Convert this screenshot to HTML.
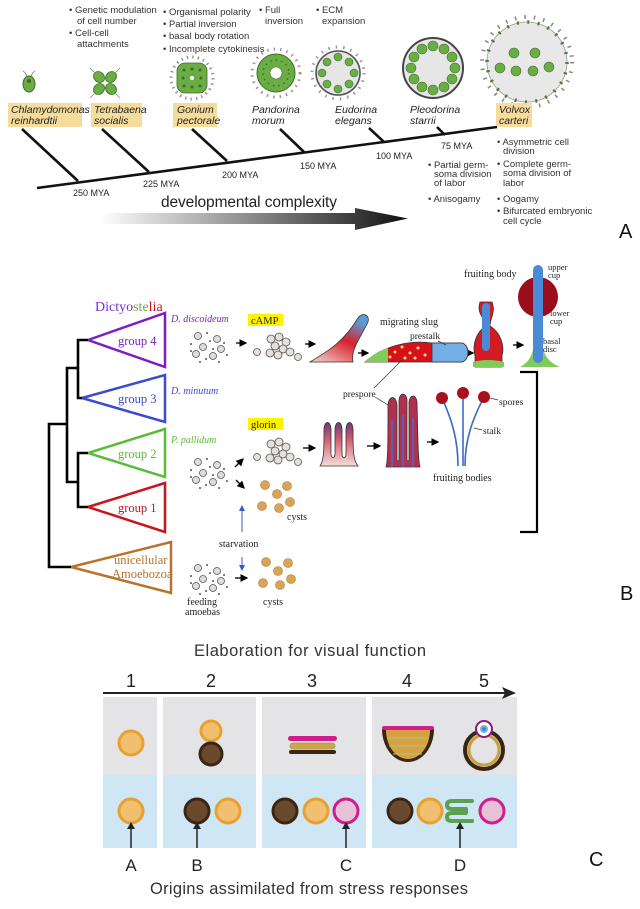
<!DOCTYPE html>
<html><head><meta charset="utf-8"><style>
html,body{margin:0;padding:0;background:#fff}
svg{display:block}
.s{font-family:"Liberation Sans",sans-serif}
.r{font-family:"Liberation Serif",serif}
</style></head><body>
<svg width="640" height="909" viewBox="0 0 640 909" xmlns="http://www.w3.org/2000/svg">
<defs>
<linearGradient id="ga" x1="0" x2="1"><stop offset="0" stop-color="#fff"/><stop offset="1" stop-color="#111"/></linearGradient>
<linearGradient id="mound" x1="0" y1="1" x2="0.6" y2="0"><stop offset="0" stop-color="#f0d8d4"/><stop offset="0.6" stop-color="#d8202a"/><stop offset="1" stop-color="#5a9ad8"/></linearGradient>
<linearGradient id="fing" x1="0" y1="1" x2="0" y2="0"><stop offset="0" stop-color="#f2dcd8"/><stop offset="0.6" stop-color="#d46070"/><stop offset="1" stop-color="#6a3a80"/></linearGradient>
<marker id="ah" markerWidth="6" markerHeight="6" refX="5" refY="3" orient="auto"><path d="M0,0 L6,3 L0,6 Z" fill="#000"/></marker>
<marker id="ab" markerWidth="6" markerHeight="6" refX="5" refY="3" orient="auto"><path d="M0,0 L6,3 L0,6 Z" fill="#3a5ac8"/></marker>
</defs>

<!-- ============ PANEL A ============ -->
<g class="s" font-size="9.5" fill="#333">
<text x="69" y="13">•  Genetic modulation</text>
<text x="77" y="24">of cell number</text>
<text x="69" y="36">•  Cell-cell</text>
<text x="77" y="47">attachments</text>
<text x="163" y="15">•  Organismal polarity</text>
<text x="163" y="27">•  Partial inversion</text>
<text x="163" y="39">•  basal body rotation</text>
<text x="163" y="52">•  Incomplete cytokinesis</text>
<text x="259" y="13">•  Full</text>
<text x="265" y="24">inversion</text>
<text x="316" y="13">•  ECM</text>
<text x="322" y="24">expansion</text>
<text x="428" y="168">•  Partial germ-</text>
<text x="434" y="177">soma division</text>
<text x="434" y="186">of labor</text>
<text x="428" y="202">•  Anisogamy</text>
<text x="497" y="145">•  Asymmetric cell</text>
<text x="503" y="154">division</text>
<text x="497" y="167">•  Complete germ-</text>
<text x="503" y="176">soma division of</text>
<text x="503" y="186">labor</text>
<text x="497" y="202">•  Oogamy</text>
<text x="497" y="214">•  Bifurcated embryonic</text>
<text x="503" y="224">cell cycle</text>
</g>

<!-- organisms -->
<g stroke="#777" stroke-width="0.8" fill="none">
<path d="M27,76 q-2,-4 -4,-5 M31,76 q2,-4 4,-5"/>
</g>
<ellipse cx="29" cy="84" rx="6" ry="8" fill="#6aad45" stroke="#3d6e2a"/>
<circle cx="29" cy="81" r="2" fill="#3d6e2a"/>
<!-- Tetrabaena -->
<g fill="#6aad45" stroke="#3d6e2a" stroke-width="0.8">
<ellipse cx="99" cy="77" rx="6" ry="5" transform="rotate(45 99 77)"/>
<ellipse cx="111" cy="77" rx="6" ry="5" transform="rotate(-45 111 77)"/>
<ellipse cx="99" cy="89" rx="6" ry="5" transform="rotate(-45 99 89)"/>
<ellipse cx="111" cy="89" rx="6" ry="5" transform="rotate(45 111 89)"/>
</g>
<g stroke="#888" stroke-width="0.8" fill="none"><path d="M94,72 l-4,-4 M116,72 l4,-4 M94,94 l-4,4 M116,94 l4,4"/></g>
<!-- Gonium -->
<circle cx="192" cy="78" r="21" fill="none" stroke="#999" stroke-width="3" stroke-dasharray="1.5 4"/>
<rect x="177" y="63" width="30" height="30" rx="8" fill="#6aad45" stroke="#3d6e2a" stroke-width="0.8"/>
<g fill="#3d6e2a"><circle cx="184" cy="70" r="1.5"/><circle cx="192" cy="69" r="1.5"/><circle cx="200" cy="70" r="1.5"/><circle cx="183" cy="78" r="1.5"/><circle cx="201" cy="78" r="1.5"/><circle cx="184" cy="86" r="1.5"/><circle cx="192" cy="87" r="1.5"/><circle cx="200" cy="86" r="1.5"/></g>
<circle cx="192" cy="78" r="2" fill="#fff"/>
<!-- Pandorina -->
<circle cx="276" cy="73" r="24" fill="none" stroke="#999" stroke-width="3" stroke-dasharray="1.5 5"/>
<circle cx="276" cy="73" r="19" fill="#6aad45" stroke="#3d6e2a"/>
<circle cx="276" cy="73" r="6" fill="#fff" stroke="#3d6e2a" stroke-width="0.6"/>
<circle cx="276" cy="73" r="13" fill="none" stroke="#3d6e2a" stroke-width="1.5" stroke-dasharray="1.5 4"/>
<!-- Eudorina -->
<circle cx="338" cy="73" r="26" fill="none" stroke="#999" stroke-width="3" stroke-dasharray="1.5 6"/>
<circle cx="338" cy="73" r="22" fill="#e6e6e6" stroke="#555" stroke-width="1.6"/>
<g fill="#6aad45" stroke="#3d6e2a" stroke-width="0.6">
<circle cx="354" cy="73" r="4"/><circle cx="349" cy="84" r="4"/><circle cx="338" cy="89" r="4"/><circle cx="327" cy="84" r="4"/><circle cx="322" cy="73" r="4"/><circle cx="327" cy="62" r="4"/><circle cx="338" cy="57" r="4"/><circle cx="349" cy="62" r="4"/></g>
<!-- Pleodorina -->
<circle cx="433" cy="68" r="30" fill="#e6e6e6" stroke="#444" stroke-width="2"/>
<g fill="#6aad45" stroke="#3d6e2a" stroke-width="0.6">
<circle cx="455" cy="68" r="5"/><circle cx="452" cy="79" r="5"/><circle cx="444" cy="87" r="5"/><circle cx="433" cy="90" r="5"/><circle cx="422" cy="87" r="5"/><circle cx="414" cy="79" r="5"/><circle cx="411" cy="68" r="5"/><circle cx="414" cy="57" r="5"/><circle cx="422" cy="49" r="5"/><circle cx="433" cy="46" r="5"/><circle cx="444" cy="49" r="5"/><circle cx="452" cy="57" r="5"/></g>
<!-- Volvox -->
<circle cx="527" cy="62" r="45" fill="none" stroke="#888" stroke-width="4" stroke-dasharray="1.5 8"/>
<circle cx="527" cy="62" r="40" fill="#e8e8e8" stroke="#999" stroke-width="0.8"/>
<circle cx="527" cy="62" r="40" fill="none" stroke="#4a7a3a" stroke-width="3.5" stroke-dasharray="2 8.47"/>
<g fill="#6aad45" stroke="#3d6e2a" stroke-width="0.6">
<circle cx="514" cy="53" r="5"/><circle cx="535" cy="53" r="5"/><circle cx="500" cy="68" r="5"/><circle cx="516" cy="71" r="5"/><circle cx="533" cy="71" r="5"/><circle cx="549" cy="67" r="5"/></g>

<!-- labels with boxes -->
<g fill="#f5dc9c"><rect x="8" y="103" width="74" height="24"/><rect x="91" y="103" width="51" height="24"/><rect x="173" y="103" width="44" height="24"/><rect x="496" y="103" width="36" height="24"/></g>
<g class="s" font-size="10.5" font-style="italic" fill="#222">
<text x="11" y="113">Chlamydomonas</text><text x="11" y="124">reinhardtii</text>
<text x="94" y="113">Tetrabaena</text><text x="94" y="124">socialis</text>
<text x="177" y="113">Gonium</text><text x="177" y="124">pectorale</text>
<text x="252" y="113">Pandorina</text><text x="252" y="124">morum</text>
<text x="335" y="113">Eudorina</text><text x="335" y="124">elegans</text>
<text x="410" y="113">Pleodorina</text><text x="410" y="124">starrii</text>
<text x="499" y="113">Volvox</text><text x="499" y="124">carteri</text>
</g>
<!-- timeline -->
<g stroke="#111" stroke-width="2.6">
<line x1="37" y1="188" x2="497" y2="127"/>
<line x1="22" y1="129" x2="78" y2="181"/>
<line x1="102" y1="129" x2="149" y2="172"/>
<line x1="192" y1="129" x2="227" y2="161"/>
<line x1="280" y1="129" x2="304" y2="152"/>
<line x1="369" y1="128" x2="384" y2="142"/>
<line x1="437" y1="127" x2="445" y2="135"/>
</g>
<g class="s" font-size="9" fill="#222">
<text x="73" y="196">250 MYA</text><text x="143" y="187">225 MYA</text><text x="222" y="178">200 MYA</text>
<text x="300" y="169">150 MYA</text><text x="376" y="159">100 MYA</text><text x="441" y="149">75 MYA</text>
</g>
<text x="161" y="207" class="s" font-size="15.5" fill="#222" textLength="176">developmental complexity</text>
<path d="M100,213 H355 V208 L408,218.5 L355,230 V224 H100 Z" fill="url(#ga)"/>
<text x="619" y="238" class="s" font-size="20" fill="#111">A</text>

<!-- ============ PANEL B ============ -->
<text x="95" y="311" class="r" font-size="14"><tspan fill="#7a2fd0">Dictyo</tspan><tspan fill="#6aa84f">ste</tspan><tspan fill="#c8161d">lia</tspan></text>
<g fill="none" stroke-width="2.5">
<path d="M88,340 L165,313 V367 Z" stroke="#7a1fc8"/>
<path d="M82,398 L165,375 V422 Z" stroke="#3a4bd0"/>
<path d="M88,453 L165,429 V477 Z" stroke="#5dbb3a"/>
<path d="M88,507 L165,483 V532 Z" stroke="#c8161d"/>
<path d="M71,567 L171,542 V593 Z" stroke="#b8732a"/>
</g>
<g fill="none" stroke="#000" stroke-width="2.6">
<path d="M88,340 H78 V398 H82"/>
<path d="M88,453 H78 V507 H88"/>
<path d="M78,368 H67 V482 H78"/>
<path d="M67,424 H49 V567 H71"/>
</g>
<g class="r" font-size="12.5">
<text x="118" y="345" fill="#7a1fc8">group 4</text>
<text x="118" y="403" fill="#3a4bd0">group 3</text>
<text x="118" y="458" fill="#5dbb3a">group 2</text>
<text x="118" y="512" fill="#c8161d">group 1</text>
<text x="114" y="564" fill="#b8732a">unicellular</text>
<text x="112" y="578" fill="#b8732a">Amoebozoa</text>
</g>
<g class="r" font-size="10" font-style="italic">
<text x="171" y="322" fill="#7a1fc8">D. discoideum</text>
<text x="171" y="394" fill="#3a4bd0">D. minutum</text>
<text x="171" y="443" fill="#5dbb3a">P. pallidum</text>
</g>
<!-- amoeba clusters -->
<g id="cl" fill="#ddd" stroke="#555" stroke-width="0.8">
<circle cx="198" cy="336" r="3.5"/><circle cx="217" cy="339" r="3.5"/><circle cx="203" cy="347" r="3.5"/><circle cx="196" cy="354" r="3.5"/><circle cx="213" cy="356" r="3.5"/><circle cx="221" cy="349" r="3.5"/>
<g fill="#555" stroke="none"><circle cx="207" cy="333" r="1"/><circle cx="210" cy="341" r="1"/><circle cx="191" cy="344" r="1"/><circle cx="224" cy="343" r="1"/><circle cx="206" cy="359" r="1"/><circle cx="219" cy="362" r="1"/><circle cx="200" cy="362" r="1"/><circle cx="213" cy="349" r="1"/><circle cx="227" cy="355" r="1"/><circle cx="191" cy="351" r="1"/></g>
</g>
<use href="#cl" x="0" y="126"/>
<use href="#cl" x="0" y="232"/>
<!-- aggregates -->
<g id="ag" fill="#e6e0dc" stroke="#555" stroke-width="0.8">
<circle cx="271" cy="339" r="4"/><circle cx="279" cy="337" r="4"/><circle cx="286" cy="342" r="4"/><circle cx="275" cy="346" r="4"/><circle cx="283" cy="349" r="4"/><circle cx="290" cy="352" r="4"/><circle cx="270" cy="353" r="4"/><circle cx="278" cy="355" r="4"/><circle cx="257" cy="352" r="3.5"/><circle cx="298" cy="357" r="3.5"/>
</g>
<use href="#ag" x="0" y="105"/>
<rect x="248" y="314" width="35" height="12" fill="#fff200"/>
<text x="251" y="324" class="r" font-size="10.5" fill="#222">cAMP</text>
<rect x="248" y="418" width="35" height="12" fill="#fff200"/>
<text x="251" y="428" class="r" font-size="10.5" fill="#222">glorin</text>
<!-- black arrows -->
<g stroke="#000" stroke-width="1.3" marker-end="url(#ah)">
<line x1="236" y1="343" x2="246" y2="343"/>
<line x1="305" y1="344" x2="315" y2="344"/>
<line x1="358" y1="353" x2="368" y2="353"/>
<line x1="462" y1="353" x2="473" y2="353"/>
<line x1="513" y1="345" x2="523" y2="345"/>
<line x1="235" y1="467" x2="243" y2="459"/>
<line x1="236" y1="480" x2="244" y2="488"/>
<line x1="235" y1="578" x2="247" y2="578"/>
<line x1="303" y1="448" x2="315" y2="448"/>
<line x1="367" y1="446" x2="380" y2="446"/>
<line x1="427" y1="442" x2="438" y2="442"/>
</g>
<!-- mound -->
<path d="M310,362 C330,350 345,340 358,318 C362,312 370,314 368,322 C362,335 350,350 353,362 Z" fill="url(#mound)" stroke="#333" stroke-width="0.8"/>
<!-- slug -->
<path d="M365,362 C385,345 410,340 432,343 H462 C470,345 470,360 462,362 Z" fill="#d8101c" stroke="#333" stroke-width="0.8"/>
<path d="M432,343 H462 C470,345 470,360 462,362 H432 Z" fill="#74aee6" stroke="#333" stroke-width="0.8"/>
<path d="M365,362 C372,355 380,350 388,348 V362 Z" fill="#7fcc5a"/>
<g fill="#f3e070"><circle cx="395" cy="352" r="1.5"/><circle cx="402" cy="347" r="1.5"/><circle cx="410" cy="353" r="1.5"/><circle cx="418" cy="348" r="1.5"/><circle cx="425" cy="355" r="1.5"/><circle cx="405" cy="358" r="1.5"/><circle cx="415" cy="358" r="1.5"/><circle cx="390" cy="357" r="1.5"/></g>
<text x="380" y="325" class="r" font-size="10" fill="#222">migrating slug</text>
<text x="410" y="339" class="r" font-size="9.5" fill="#222">prestalk</text>
<line x1="438" y1="341" x2="446" y2="345" stroke="#333" stroke-width="0.7"/>
<!-- culminant -->
<path d="M480,302 C476,315 486,318 486,326 C476,332 472,345 475,356 L475,367 H502 V356 C505,345 500,332 490,326 C490,318 496,312 492,302 Z" fill="#d41a22" stroke="#333" stroke-width="0.8"/>
<rect x="482" y="303" width="8" height="48" rx="4" fill="#4a8ad6"/>
<path d="M473,362 Q488,358 504,362 V367 H473 Z" fill="#7fcc5a"/>
<!-- fruiting body -->
<circle cx="538" cy="297" r="20" fill="#9b0d1a"/>
<path d="M520,367 Q534,360 534,340 H542 Q542,360 560,367 Z" fill="#7fcc5a"/>
<rect x="533" y="265" width="10" height="98" rx="5" fill="#4a8ad6"/>
<text x="464" y="277" class="r" font-size="10" fill="#222">fruiting body</text>
<g class="r" font-size="8.5" fill="#222">
<text x="548" y="270">upper</text><text x="548" y="278">cup</text>
<text x="550" y="316">lower</text><text x="550" y="324">cup</text>
<text x="543" y="344">basal</text><text x="543" y="352">disc</text>
</g>
<!-- bracket -->
<path d="M520,372 H537 V532 H520" fill="none" stroke="#000" stroke-width="2.2"/>
<!-- prespore -->
<text x="343" y="397" class="r" font-size="9.5" fill="#222">prespore</text>
<line x1="374" y1="388" x2="402" y2="360" stroke="#333" stroke-width="0.7"/>
<line x1="375" y1="397" x2="388" y2="405" stroke="#333" stroke-width="0.7"/>
<!-- fingers -->
<path d="M320,466 C324,460 324,450 324,430 C324,420 331,420 331,430 V455 Q333,460 335,455 V430 C335,420 342,420 342,430 V455 Q344,460 346,455 V430 C346,420 353,420 353,430 C353,450 353,460 358,466 Z" fill="url(#fing)" stroke="#333" stroke-width="0.8"/>
<!-- prespore columns -->
<path d="M386,467 C388,460 388,440 388,405 C389,395 396,395 397,405 V460 Q398,462 399,460 V400 C400,392 406,392 407,400 V460 Q408,462 409,460 V402 C410,394 416,394 417,402 C418,440 418,460 420,467 Z" fill="#b03050" stroke="#333" stroke-width="0.8"/>
<g stroke="#4a6ad0" stroke-width="1.5"><line x1="392" y1="420" x2="392" y2="467"/><line x1="403" y1="415" x2="403" y2="467"/><line x1="413" y1="418" x2="413" y2="467"/></g>
<!-- fruiting bodies -->
<g fill="none" stroke="#3a6ac8" stroke-width="1.6">
<path d="M442,398 C452,420 458,440 458,466"/><path d="M463,393 V466"/><path d="M484,397 C472,420 465,440 465,466"/>
</g>
<g fill="#a8101e"><circle cx="442" cy="398" r="6"/><circle cx="463" cy="393" r="6"/><circle cx="484" cy="397" r="6"/></g>
<line x1="490" y1="398" x2="498" y2="400" stroke="#333" stroke-width="0.7"/>
<line x1="474" y1="428" x2="482" y2="430" stroke="#333" stroke-width="0.7"/>
<g class="r" font-size="9.5" fill="#222">
<text x="499" y="405">spores</text><text x="483" y="434">stalk</text>
<text x="433" y="481" font-size="10">fruiting bodies</text>
<text x="287" y="520" font-size="10">cysts</text>
<text x="219" y="547" font-size="10">starvation</text>
<text x="187" y="605" font-size="10">feeding</text>
<text x="185" y="615" font-size="10">amoebas</text>
<text x="263" y="605" font-size="10">cysts</text>
</g>
<!-- cysts -->
<g id="cy" fill="#d9a45a" stroke="#b07a30" stroke-width="0.6">
<circle cx="265" cy="485" r="4.5"/><circle cx="287" cy="486" r="4.5"/><circle cx="277" cy="494" r="4.5"/><circle cx="290" cy="502" r="4.5"/><circle cx="262" cy="506" r="4.5"/><circle cx="279" cy="508" r="4.5"/>
</g>
<use href="#cy" x="1" y="77"/>
<g stroke="#3a5ac8" stroke-width="1" marker-end="url(#ab)">
<line x1="242" y1="532" x2="242" y2="506"/>
<line x1="242" y1="557" x2="242" y2="570"/>
</g>
<text x="620" y="600" class="s" font-size="20" fill="#111">B</text>

<!-- ============ PANEL C ============ -->
<text x="310" y="656" text-anchor="middle" class="s" font-size="16.5" fill="#333" textLength="232">Elaboration for visual function</text>
<g class="s" font-size="18" fill="#222" text-anchor="middle">
<text x="131" y="687">1</text><text x="211" y="687">2</text><text x="312" y="687">3</text><text x="407" y="687">4</text><text x="484" y="687">5</text>
</g>
<g>
<rect x="103" y="697" width="54" height="78" fill="#e4e4e6"/><rect x="103" y="775" width="54" height="73" fill="#cfe6f4"/>
<rect x="163" y="697" width="93" height="78" fill="#e4e4e6"/><rect x="163" y="775" width="93" height="73" fill="#cfe6f4"/>
<rect x="262" y="697" width="104" height="78" fill="#e4e4e6"/><rect x="262" y="775" width="104" height="73" fill="#cfe6f4"/>
<rect x="372" y="697" width="145" height="78" fill="#e4e4e6"/><rect x="372" y="775" width="145" height="73" fill="#cfe6f4"/>
</g>
<line x1="103" y1="693" x2="508" y2="693" stroke="#222" stroke-width="2"/>
<path d="M502,687 L516,693 L502,699 L505,693 Z" fill="#222"/>
<!-- row 1 -->
<g stroke-width="3">
<circle cx="131" cy="743" r="12" fill="#f0c070" stroke="#e8a030"/>
<circle cx="211" cy="731" r="10" fill="#f0c070" stroke="#e8a030"/>
<circle cx="211" cy="754" r="11" fill="#6a4a2c" stroke="#3a2614"/>
</g>
<rect x="288" y="736" width="49" height="5" rx="2.5" fill="#d01c8c"/>
<rect x="290" y="743" width="45" height="6" rx="3" fill="#d9a040" stroke="#8ab070" stroke-width="1"/>
<rect x="289" y="750" width="47" height="4" rx="2" fill="#3a2614"/>
<!-- bowl -->
<path d="M382,729 A26,33 0 0 0 434,729" fill="#3a2614"/>
<path d="M386,730 A22,29 0 0 0 430,730 Z" fill="#d9a040"/>
<g stroke="#a0c890" stroke-width="1"><line x1="387" y1="738" x2="428" y2="738"/><line x1="389" y1="746" x2="426" y2="746"/><line x1="393" y1="754" x2="422" y2="754"/></g>
<rect x="382" y="726" width="52" height="4" rx="2" fill="#d01c8c"/>
<!-- eye -->
<circle cx="484" cy="750" r="19" fill="none" stroke="#3a2614" stroke-width="4"/>
<circle cx="484" cy="750" r="15" fill="none" stroke="#c8a040" stroke-width="3"/>
<circle cx="484" cy="729" r="8" fill="#fff" stroke="#8a1a7a" stroke-width="2"/>
<circle cx="484" cy="729" r="4" fill="#7ab0e0"/><circle cx="484" cy="729" r="1.8" fill="#3a7ac8"/>
<!-- row 2 -->
<g stroke-width="3">
<circle cx="131" cy="811" r="12" fill="#f0c070" stroke="#e8a030"/>
<circle cx="197" cy="811" r="12" fill="#6a4a2c" stroke="#3a2614"/>
<circle cx="228" cy="811" r="12" fill="#f0c070" stroke="#e8a030"/>
<circle cx="285" cy="811" r="12" fill="#6a4a2c" stroke="#3a2614"/>
<circle cx="316" cy="811" r="12" fill="#f0c070" stroke="#e8a030"/>
<circle cx="346" cy="811" r="12" fill="#e8c0d8" stroke="#d01c8c"/>
<circle cx="400" cy="811" r="12" fill="#6a4a2c" stroke="#3a2614"/>
<circle cx="430" cy="811" r="12" fill="#f0c070" stroke="#e8a030"/>
<circle cx="492" cy="811" r="12" fill="#e8c0d8" stroke="#d01c8c"/>
</g>
<path d="M472,801 H452 Q447,801 447,805 Q447,809 452,809 H466 M466,813 H452 Q447,813 447,817 Q447,821 452,821 H472" fill="none" stroke="#5aa050" stroke-width="4" stroke-linecap="round"/>
<line x1="466" y1="809" x2="466" y2="813" stroke="#5aa050" stroke-width="4"/>
<!-- arrows up -->
<g stroke="#222" stroke-width="1.5">
<line x1="131" y1="848" x2="131" y2="826"/><line x1="197" y1="848" x2="197" y2="826"/><line x1="346" y1="848" x2="346" y2="826"/><line x1="460" y1="848" x2="460" y2="826"/>
</g>
<g fill="#222"><path d="M127,829 L131,822 L135,829 Z"/><path d="M193,829 L197,822 L201,829 Z"/><path d="M342,829 L346,822 L350,829 Z"/><path d="M456,829 L460,822 L464,829 Z"/></g>
<g class="s" font-size="17" fill="#222" text-anchor="middle">
<text x="131" y="871">A</text><text x="197" y="871">B</text><text x="346" y="871">C</text><text x="460" y="871">D</text>
</g>
<text x="309" y="894" text-anchor="middle" class="s" font-size="16.5" fill="#333" textLength="318">Origins assimilated from stress responses</text>
<text x="589" y="866" class="s" font-size="20" fill="#111">C</text>
</svg>
</body></html>
